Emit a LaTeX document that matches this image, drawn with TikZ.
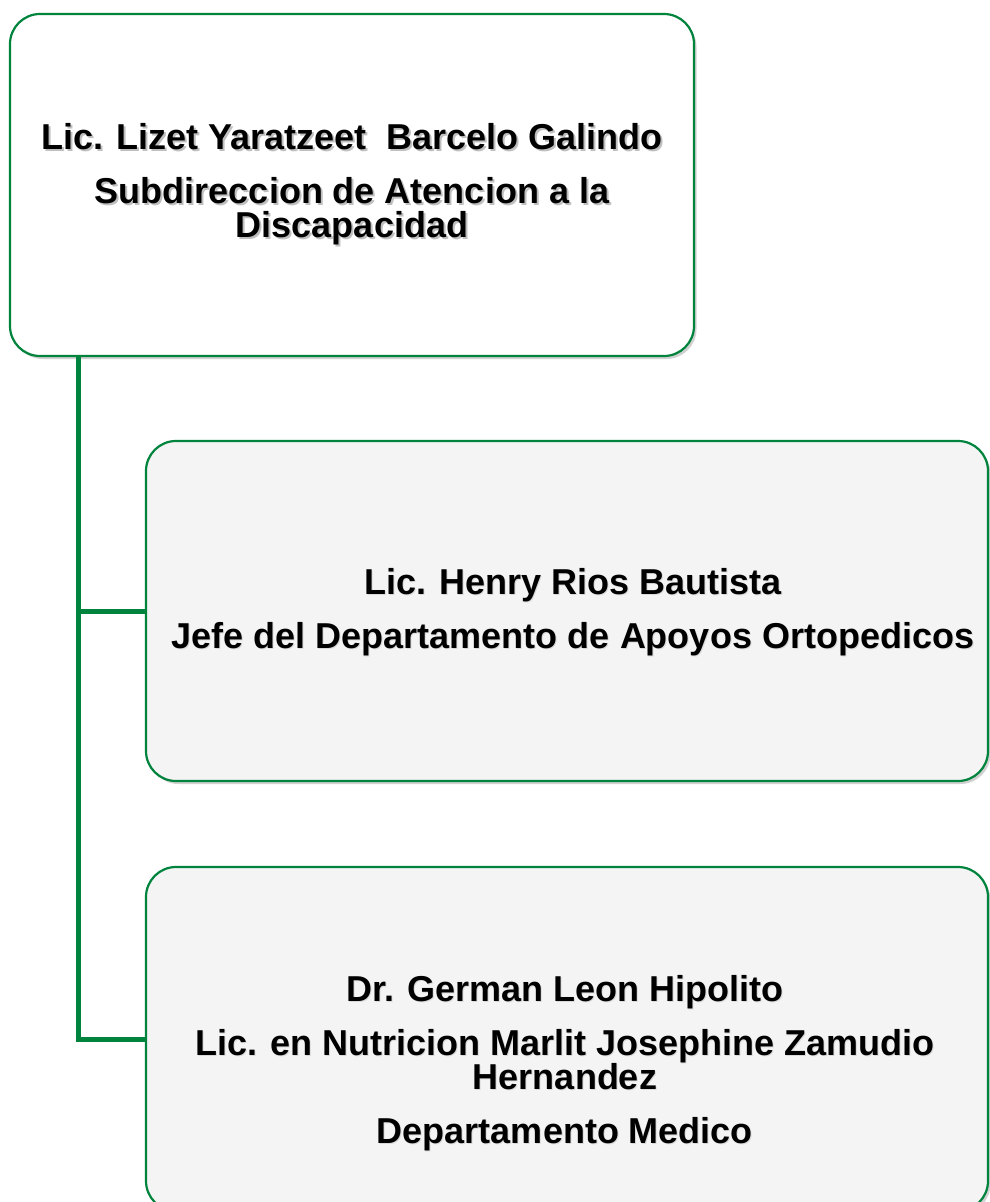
\documentclass[tikz,border=0pt]{standalone}
\usepackage{fontspec}
\setmainfont{Liberation Sans}
\usetikzlibrary{shadows}
\definecolor{grn}{RGB}{0,132,61}
\definecolor{boxgray}{RGB}{244,244,244}
\begin{document}
\begin{tikzpicture}[x=1pt,y=-1pt,
  orgbox/.style={draw=grn, line width=2.2pt, rounded corners=30pt, inner sep=0pt, outer sep=0pt,
    drop shadow={shadow xshift=2.5pt, shadow yshift=-3pt, opacity=0.3, fill=black!60}},
  conn/.style={draw=grn, line width=5pt},
  lbl/.style={font=\fontsize{36}{34.5}\selectfont\bfseries, align=center, inner sep=0pt, text=black},
  lblshadow/.style={lbl, text=black!45, opacity=0.55}
]
\useasboundingbox (0,0) rectangle (989,1202);

% boxes
\node[orgbox, fill=white, minimum width=684pt, minimum height=342pt] (top) at (352,185) {};
\node[orgbox, fill=boxgray, minimum width=842pt, minimum height=340pt] (b2) at (567,611) {};
\node[orgbox, fill=boxgray, minimum width=842pt, minimum height=344pt] (b3) at (567,1039) {};

% connectors
\coordinate (bus) at (78,0);
\draw[conn] (top.south -| bus) |- (b3.west);
\draw[conn] (bus |- b2.west) -- (b2.west);

% texts (with soft shadow)
\node[lblshadow] (t1s) at (354,186) {Lic. Lizet Yaratzeet\ \ Barcelo Galindo\\[19.5pt]Subdireccion de Atencion a la\\Discapacidad};
\node[lbl] (t1) at (352,184) {Lic. Lizet Yaratzeet\ \ Barcelo Galindo\\[19.5pt]Subdireccion de Atencion a la\\Discapacidad};

\node[lblshadow, opacity=0.25] (t2s) at (574,613) {Lic. Henry Rios Bautista\\[19.5pt]Jefe del Departamento de Apoyos Ortopedicos};
\node[lbl] (t2) at (573,612) {Lic. Henry Rios Bautista\\[19.5pt]Jefe del Departamento de Apoyos Ortopedicos};

\node[lblshadow, opacity=0.25] (t3s) at (566,1064) {Dr. German Leon Hipolito\\[19.5pt]Lic. en Nutricion Marlit Josephine Zamudio\\Hernandez\\[19.5pt]Departamento Medico};
\node[lbl] (t3) at (565,1063) {Dr. German Leon Hipolito\\[19.5pt]Lic. en Nutricion Marlit Josephine Zamudio\\Hernandez\\[19.5pt]Departamento Medico};
\end{tikzpicture}
\end{document}
